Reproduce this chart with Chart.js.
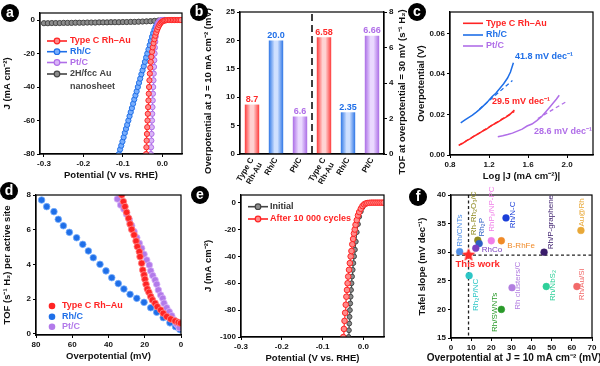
<!DOCTYPE html>
<html><head><meta charset="utf-8">
<script src="https://cdn.jsdelivr.net/npm/chart.js@4/dist/chart.umd.min.js"></script>
<style>
html,body{margin:0;padding:0;background:#fff;}
#wrap{position:relative;width:600px;height:366px;overflow:hidden;background:#fff;}
#wrap canvas{position:absolute;left:0;top:0;}
.lab{position:absolute;width:18px;height:18px;border-radius:50%;background:#000;color:#fff;font:bold 14px "Liberation Sans",Arial,sans-serif;text-align:center;line-height:17px;}
</style></head><body>
<div id="wrap">
<canvas id="ca" width="600" height="366"></canvas>
<canvas id="cb" width="600" height="366"></canvas>
<canvas id="cc" width="600" height="366"></canvas>
<canvas id="cd" width="600" height="366"></canvas>
<canvas id="ce" width="600" height="366"></canvas>
<canvas id="cf" width="600" height="366"></canvas>
<div class="lab" style="left:1px;top:4px">a</div>
<div class="lab" style="left:190px;top:3px">b</div>
<div class="lab" style="left:408px;top:3px">c</div>
<div class="lab" style="left:0px;top:182px">d</div>
<div class="lab" style="left:191px;top:186px">e</div>
<div class="lab" style="left:409px;top:188px">f</div>
</div>
<script>
// ---------------- DATA ----------------
// Panel a: LSV curves (potential V vs RHE, current density mA cm-2)
const aRedV = [-0.041,-0.0403,-0.0396,-0.0389,-0.0382,-0.0375,-0.0367,-0.0359,-0.0351,-0.0343,-0.0335,-0.0326,-0.0316,-0.0305,-0.0292,-0.0277,-0.026,-0.0242,-0.0222,-0.0200,-0.0177,-0.0153,-0.0128,-0.0102,-0.0075,-0.0047,-0.0018,0.0012,0.0043,0.0075,0.011,0.015,0.019,0.023,0.027,0.031,0.035,0.039,0.043,0.047];
const aRedJ = [-80,-76,-72,-68,-64,-60,-56,-52,-48,-44,-40,-36,-32,-28.5,-25,-22,-19,-16.3,-13.8,-11.5,-9.4,-7.5,-5.8,-4.3,-3.0,-2.0,-1.2,-0.7,-0.4,-0.2,-0.1,0,0,0,0,0,0,0,0,0];
const aBlueV = [-0.110,-0.107,-0.104,-0.101,-0.098,-0.095,-0.092,-0.089,-0.086,-0.083,-0.080,-0.077,-0.074,-0.071,-0.068,-0.065,-0.062,-0.059,-0.056,-0.053,-0.050,-0.047,-0.044,-0.041,-0.038,-0.035,-0.032,-0.029,-0.026,-0.023,-0.020,-0.017,-0.014,-0.011,-0.008,-0.005,-0.002,0.002,0.006];
const aBlueJ = [-80,-77.3,-75,-72.6,-70,-67.4,-65,-62.6,-60,-57.4,-55,-52.6,-50,-47.4,-45,-42.6,-40,-37.5,-35,-32.4,-30,-27.6,-25,-22.4,-20,-17.6,-15,-12.5,-10,-7.8,-5.8,-4.1,-2.8,-1.8,-1.1,-0.6,-0.3,-0.1,0];
const aPtV = [-0.029,-0.0284,-0.0278,-0.0272,-0.0266,-0.026,-0.0254,-0.0248,-0.0242,-0.0236,-0.023,-0.0223,-0.0216,-0.0209,-0.0202,-0.0195,-0.0187,-0.0178,-0.0168,-0.0157,-0.0145,-0.0131,-0.0115,-0.0097,-0.0077,-0.0055,-0.003,0.0];
const aPtJ = [-80,-76,-72,-68,-64,-60,-56,-52,-48,-44,-40,-36,-32,-28,-24,-20,-16.5,-13,-10,-7.5,-5.3,-3.5,-2.2,-1.3,-0.7,-0.3,-0.1,0];
const aAuV = [-0.30,-0.29,-0.28,-0.27,-0.26,-0.25,-0.24,-0.23,-0.22,-0.21,-0.20,-0.19,-0.18,-0.17,-0.16,-0.15,-0.14,-0.13,-0.12,-0.11,-0.10,-0.09,-0.08,-0.07,-0.06,-0.05,-0.04,-0.03,-0.02,-0.01,0.0];
const aAuJ = [-1.9,-1.9,-1.8,-1.8,-1.8,-1.7,-1.7,-1.7,-1.6,-1.6,-1.6,-1.5,-1.5,-1.5,-1.4,-1.4,-1.4,-1.3,-1.3,-1.3,-1.2,-1.2,-1.1,-1.1,-1.0,-0.9,-0.8,-0.7,-0.5,-0.3,-0.1];
const aTicksX = [-0.3,-0.2,-0.1,0.0];
const aTicksY = [0,-20,-40,-60,-80];

// Panel b: bars
const bCategories = [['Type C','Rh-Au'],'Rh/C','Pt/C',['Type C','Rh-Au'],'Rh/C','Pt/C'];
const bOverpotential = [8.7, 20.0, 6.6];
const bTOF = [6.58, 2.35, 6.66];
const bValueLabels = ['8.7','20.0','6.6','6.58','2.35','6.66'];
const bTicksL = [0,5,10,15,20,25];
const bTicksR = [0,2,4,6,8];

// Panel c: Tafel plots (log|J|, overpotential V)
const cRedX = [0.89,0.93,0.97,1.01,1.05,1.09,1.13,1.17,1.21,1.25,1.29,1.33,1.37,1.41,1.46];
const cRedY = [0.0049,0.0058,0.0071,0.0081,0.0094,0.0104,0.0117,0.0127,0.0140,0.0152,0.0162,0.0175,0.0186,0.0198,0.0222];
const cRedFitX = [0.89,1.46];
const cRedFitY = [0.0047,0.0215];
const cBlueX = [0.91,0.95,0.99,1.03,1.07,1.11,1.15,1.19,1.23,1.27,1.31,1.35,1.39,1.42,1.45];
const cBlueY = [0.0159,0.0172,0.0185,0.0197,0.0212,0.0228,0.0246,0.0265,0.0288,0.0305,0.0328,0.0352,0.0380,0.0410,0.0455];
const cBlueFitX = [1.10,1.44];
const cBlueFitY = [0.0226,0.0368];
const cPtX = [1.29,1.34,1.39,1.44,1.49,1.54,1.59,1.64,1.69,1.74,1.78,1.82,1.86,1.89,1.92];
const cPtY = [0.0090,0.0095,0.0101,0.0108,0.0118,0.0128,0.0143,0.0153,0.0170,0.0190,0.0212,0.0235,0.0258,0.0275,0.0295];
const cPtFitX = [1.70,1.99];
const cPtFitY = [0.0180,0.0263];
const cSlopes = ['41.8 mV dec⁻¹','29.5 mV dec⁻¹','28.6 mV dec⁻¹'];
const cTicksX = [0.8,1.2,1.6,2.0];
const cTicksY = [0,0.02,0.04,0.06];

// Panel d: TOF vs overpotential
const dRedX = [32.7,31.8,30.9,30.0,28.9,28.1,27.2,25.9,24.8,24.1,23.0,22.6,21.7,21.1,20.4,19.9,19.3,18.6,17.7,16.7,15.8,14.3,13.1,11.2,9.8,7.9,5.7,3.3,1.5,0.3];
const dRedY = [8.0,7.62,7.33,7.0,6.66,6.33,6.02,5.7,5.35,5.03,4.74,4.45,4.07,3.68,3.4,3.15,2.86,2.59,2.4,2.15,1.96,1.77,1.57,1.38,1.19,1.0,0.86,0.75,0.67,0.62];
const dBlueX = [76.9,74.1,70.1,67.7,64.9,61.6,57.6,54.2,51.1,48.4,44.7,41.4,38.2,34.6,31.5,28.1,24.4,20.4,16.7,13.4,9.8,6.1,3.0,0.6];
const dBlueY = [7.71,7.33,7.04,6.6,6.23,5.85,5.54,5.16,4.78,4.39,4.01,3.63,3.24,2.9,2.59,2.28,2.05,1.82,1.51,1.25,0.94,0.64,0.42,0.25];
const dPtX = [35.1,33.3,31.5,30.0,28.5,27.2,25.9,24.4,23.0,21.7,20.4,18.9,17.5,16.7,15.6,14.3,13.4,12.5,11.2,10.1,9.4,7.9,6.5,5.1,3.9,2.4,1.0];
const dPtY = [7.77,7.42,7.19,6.89,6.56,6.23,5.89,5.54,5.22,4.93,4.59,4.26,3.97,3.63,3.36,3.11,2.86,2.53,2.24,2.05,1.77,1.51,1.28,1.05,0.81,0.56,0.36];
const dTicksX = [80,60,40,20,0];
const dTicksY = [0,2,4,6,8];

// Panel e: stability
const eAfterV = [-0.049,-0.0475,-0.046,-0.0445,-0.043,-0.0415,-0.040,-0.0385,-0.037,-0.035,-0.033,-0.031,-0.029,-0.027,-0.025,-0.023,-0.021,-0.019,-0.016,-0.013,-0.010,-0.006,-0.002,0.002,0.006,0.010,0.015,0.020,0.025,0.030,0.035,0.040,0.045,0.050];
const eAfterJ = [-100,-94,-88,-82,-76,-70,-65,-60,-55,-50,-45,-40,-36,-31,-27,-23,-20,-16.5,-13,-9.5,-7,-4.5,-2.5,-1.3,-0.6,-0.3,-0.1,0,0,0,0,0,0,0];
const eInitV = [-0.036,-0.0352,-0.0344,-0.0336,-0.0328,-0.032,-0.031,-0.030,-0.0288,-0.0275,-0.026,-0.0243,-0.0225,-0.0205,-0.0183,-0.016,-0.013,-0.010,-0.006,-0.002,0.002,0.006,0.010];
const eInitJ = [-100,-95,-90,-85,-80,-75,-70,-65,-60,-55,-50,-45,-40,-35,-29,-22,-16,-10.5,-6.5,-3.5,-1.6,-0.7,-0.3];
const eTicksX = [-0.3,-0.2,-0.1,0.0];
const eTicksY = [0,-20,-40,-60,-80,-100];

// Panel f: comparison with reported catalysts
const fNames = ['Rh/CNTs','Rh-Rh₂O₃/C','Rh₂P','RhCo','RhPₓ/NP-PC','B-RhFe','Rh/N-C','Rh/P-graphene','Au@Rh','Rh₂P/NC','Rh/SWNTs','Rh clusters/C','Rh/NbS₂','Rh/Au/Si','This work'];
const fOverpotential = [4.3,13.3,14.0,12.3,20.0,25.0,27.3,46.2,64.5,9.0,25.0,30.3,47.3,62.5,8.7];
const fTafel = [30.1,32.1,31.5,30.7,32.0,32.0,36.0,30.0,33.8,25.9,20.0,23.8,24.0,24.0,29.5];
const fTicksX = [0,10,20,30,40,50,60,70];
const fTicksY = [15,20,25,30,35,40];

// ---------------- STYLE ----------------
const FONT = '"Liberation Sans", Arial, Helvetica, sans-serif';
Chart.defaults.font.family = FONT;
Chart.defaults.color = '#111';
const COL = {
  red:'#ff2424', redL:'#ff8a8a', blue:'#1f6fe8', blueL:'#79aefc', pt:'#b06ee8', ptL:'#d9b6f7',
  gray:'#444444', grayL:'#8c8c8c'
};
const fColors = ['#4f8fe8','#8f8a22','#2d5fc4','#7b3fc0','#f07ee8','#f08a28','#1b3fd8','#3a1c6b','#e8a838','#2cc6c6','#2a9a2a','#b27ee0','#2fd09a','#f26a6a','#ff2a2a'];

function pts(xs, ys){ return xs.map((x,i)=>({x:x, y:ys[i]})); }
function pad(L,T,R,B,yW,xH,rW){ return {left:L-yW, top:T, right:600-R-(rW||0), bottom:366-B-xH}; }
function linAxis(pos, min, max, ticks, title, size, fmt, extra){
  return Object.assign({
    type:'linear', position:pos, min:min, max:max,
    afterBuildTicks: s => { s.ticks = ticks.map(v => ({value:v})); },
    afterFit: s => { if (pos==='left'||pos==='right') s.width = size; else s.height = size; },
    grid:{display:true, drawOnChartArea:false, drawTicks:true, tickLength:3, color:'#000', lineWidth:1},
    border:{display:true, color:'#000', width:1.2},
    ticks:{font:{size:8, weight:'bold'}, color:'#111', padding:2, maxRotation:0, minRotation:0, autoSkip:false, callback: fmt},
    title:{display: !!title, text:title||'', font:{size:9.5, weight:'bold'}, color:'#111', padding:{top:2,bottom:2}}
  }, extra||{});
}
function baseOpts(padding, scales){
  return {responsive:false, animation:false, devicePixelRatio:1, events:[], layout:{padding:padding},
    plugins:{legend:{display:false}, tooltip:{enabled:false}}, scales:scales};
}
const frame = {id:'frame', afterDatasetsDraw(chart){
  const {ctx, chartArea:a} = chart; ctx.save(); ctx.strokeStyle='#000'; ctx.lineWidth=1.2;
  ctx.strokeRect(a.left, a.top, a.right-a.left, a.bottom-a.top); ctx.restore(); }};
function lineDS(xs, ys, color, fill, extra){
  return Object.assign({data:pts(xs,ys), showLine:true, borderColor:color, borderWidth:1.2, pointRadius:2.6,
    pointBackgroundColor:fill, pointBorderColor:color, pointBorderWidth:1}, extra||{});
}
function txt(ctx, s, x, y, color, size, weight, align, rot){
  ctx.save(); ctx.translate(x,y); if (rot) ctx.rotate(rot);
  ctx.font = (weight||'bold') + ' ' + (size||9) + 'px ' + FONT;
  ctx.fillStyle = color; ctx.textAlign = align||'left'; ctx.textBaseline='middle';
  ctx.fillText(s, 0, 0); ctx.restore();
}
function legendLineMarker(ctx, x0, x1, y, color, fill, marker, line){
  ctx.save();
  if (line !== false){ ctx.strokeStyle=color; ctx.lineWidth=1.6; ctx.beginPath(); ctx.moveTo(x0,y); ctx.lineTo(x1,y); ctx.stroke(); }
  if (marker){ ctx.fillStyle=fill; ctx.strokeStyle=color; ctx.lineWidth=1.2; ctx.beginPath(); ctx.arc((x0+x1)/2, y, 2.8, 0, Math.PI*2); ctx.fill(); ctx.stroke(); }
  ctx.restore();
}

// ---------------- PANEL a ----------------
new Chart(document.getElementById('ca'), {
  type:'scatter',
  data:{datasets:[
    lineDS(aRedV, aRedJ, COL.red, COL.redL),
    lineDS(aPtV, aPtJ, COL.pt, COL.ptL),
    lineDS(aBlueV, aBlueJ, COL.blue, COL.blueL),
    lineDS(aAuV, aAuJ, COL.gray, COL.grayL)
  ]},
  options: baseOpts(pad(40,13,182,154,40,29), {
    x: linAxis('bottom', -0.31, 0.05, aTicksX, 'Potential (V vs. RHE)', 29, v=>v.toFixed(1)),
    y: linAxis('left', -80, 4.2, aTicksY, 'J (mA cm⁻²)', 40, v=>String(v))
  }),
  plugins:[frame, {id:'legA', afterDraw(chart){
    const c = chart.ctx;
    const items = [[41,COL.red,COL.redL,'Type C Rh–Au'],[51.7,COL.blue,COL.blueL,'Rh/C'],[62.5,COL.pt,COL.ptL,'Pt/C'],[74,COL.gray,COL.grayL,'2H/fcc Au']];
    items.forEach(it => { legendLineMarker(c, 47, 67, it[0], it[1], it[2], true); txt(c, it[3], 70, it[0], it[1], 9, 'bold'); });
    txt(c, 'nanosheet', 70, 86.5, COL.gray, 9, 'bold');
  }}]
});

// ---------------- PANEL b ----------------
const bPal = [['#ff3b3b','#ffd2d2'],['#2f77e6','#cfe0ff'],['#ab6de6','#ead9ff']];
const bText = ['#ff2a2a','#1f6fe8','#b06ee8'];
function barFill(ctx){
  const ch = ctx.chart; const xs = ch.scales && ch.scales.x;
  const pal = bPal[ctx.dataIndex % 3];
  if (!xs || !ch.chartArea) return pal[0];
  const cx = xs.getPixelForValue(ctx.dataIndex);
  const g = ch.ctx.createLinearGradient(cx-7.2, 0, cx+7.2, 0);
  g.addColorStop(0, pal[0]); g.addColorStop(0.4, pal[1]); g.addColorStop(0.6, pal[1]); g.addColorStop(1, pal[0]);
  return g;
}
new Chart(document.getElementById('cb'), {
  type:'bar',
  data:{labels:bCategories, datasets:[
    {data:[...bOverpotential, null, null, null], yAxisID:'y', grouped:false, barPercentage:0.6, categoryPercentage:1, backgroundColor:barFill, borderWidth:0},
    {data:[null, null, null, ...bTOF], yAxisID:'y2', grouped:false, barPercentage:0.6, categoryPercentage:1, backgroundColor:barFill, borderWidth:0}
  ]},
  options: baseOpts(pad(240,12,384,154,40,30,22), {
    x: {type:'category', position:'bottom', offset:true, afterFit: s=>{ s.height = 30; },
        grid:{display:false, drawTicks:false}, border:{display:true, color:'#000', width:1.2},
        ticks:{font:{size:8, weight:'bold'}, color:'#111', maxRotation:60, minRotation:60, padding:2, autoSkip:false}},
    y: linAxis('left', 0, 25, bTicksL, '', 40, v=>String(v)),
    y2: linAxis('right', 0, 8, bTicksR, '', 22, v=>String(v))
  }),
  plugins:[frame, {id:'bExtra', afterDatasetsDraw(chart){
    const c = chart.ctx, xs = chart.scales.x, a = chart.chartArea;
    const xm = (xs.getPixelForValue(2) + xs.getPixelForValue(3)) / 2;
    c.save(); c.strokeStyle='#000'; c.lineWidth=1.5; c.setLineDash([7,4]);
    c.beginPath(); c.moveTo(xm, a.top+2); c.lineTo(xm, a.bottom); c.stroke(); c.restore();
    chart.data.datasets.forEach((ds, di) => {
      chart.getDatasetMeta(di).data.forEach((el, i) => {
        if (ds.data[i] == null) return;
        txt(c, bValueLabels[i], el.x, el.y - 5, bText[i % 3], 9, 'bold', 'center');
      });
    });
    txt(c, 'Overpotential at J = 10 mA cm⁻² (mV)', 208, 91, '#111', 9.5, 'bold', 'center', -Math.PI/2);
    txt(c, 'TOF at overpotential = 30 mV (s⁻¹ H₂)', 402, 92, '#111', 9.5, 'bold', 'center', -Math.PI/2);
  }}]
});

// ---------------- PANEL c ----------------
const solid = (xs,ys,col)=>({data:pts(xs,ys), showLine:true, borderColor:col, borderWidth:1.5, pointRadius:0});
const dashed = (xs,ys,col)=>({data:pts(xs,ys), showLine:true, borderColor:col, borderWidth:1.3, borderDash:[4,3], pointRadius:0});
new Chart(document.getElementById('cc'), {
  type:'scatter',
  data:{datasets:[
    solid(cRedX, cRedY, COL.red), dashed(cRedFitX, cRedFitY, COL.red),
    solid(cBlueX, cBlueY, COL.blue), dashed(cBlueFitX, cBlueFitY, COL.blue),
    solid(cPtX, cPtY, COL.pt), dashed(cPtFitX, cPtFitY, COL.pt)
  ]},
  options: baseOpts(pad(450,12,593,155,36,29), {
    x: linAxis('bottom', 0.8, 2.266, cTicksX, 'Log |J (mA cm⁻²)|', 29, v=>v.toFixed(1)),
    y: linAxis('left', 0, 0.0706, cTicksY, 'Overpotential (V)', 36, v=>v.toFixed(2))
  }),
  plugins:[frame, {id:'legC', afterDraw(chart){
    const c = chart.ctx;
    [[23.3,COL.red,'Type C Rh–Au'],[35,COL.blue,'Rh/C'],[46,COL.pt,'Pt/C']].forEach(it => {
      legendLineMarker(c, 463, 483, it[0], it[1], it[1], false); txt(c, it[2], 486, it[0], it[1], 9, 'bold');
    });
    txt(c, cSlopes[0], 515, 57, COL.blue, 9, 'bold');
    txt(c, cSlopes[1], 492, 102, COL.red, 9, 'bold');
    txt(c, cSlopes[2], 534, 132, COL.pt, 9, 'bold');
  }}]
});

// ---------------- PANEL d ----------------
const dots = (xs,ys,col,light)=>({data:pts(xs,ys), showLine:false, pointRadius:3.3, pointBackgroundColor:col, pointBorderColor:light, pointBorderWidth:0.8});
new Chart(document.getElementById('cd'), {
  type:'scatter',
  data:{datasets:[
    dots(dRedX, dRedY, COL.red, COL.redL),
    dots(dPtX, dPtY, '#b27aea', COL.ptL),
    dots(dBlueX, dBlueY, COL.blue, COL.blueL)
  ]},
  options: baseOpts(pad(36,195,181,335,36,29), {
    x: linAxis('bottom', 0, 80, dTicksX, 'Overpotential (mV)', 29, v=>String(v), {reverse:true}),
    y: linAxis('left', -0.06, 8, dTicksY, 'TOF (s⁻¹ H₂) per active site', 36, v=>String(v))
  }),
  plugins:[frame, {id:'legD', afterDraw(chart){
    const c = chart.ctx;
    [[306,COL.red,'Type C Rh–Au'],[316.7,COL.blue,'Rh/C'],[326.7,'#b27aea','Pt/C']].forEach(it => {
      c.save(); c.fillStyle=it[1]; c.beginPath(); c.arc(52, it[0], 3.3, 0, Math.PI*2); c.fill(); c.restore();
      txt(c, it[2], 62, it[0], it[1], 9, 'bold');
    });
  }}]
});

// ---------------- PANEL e ----------------
new Chart(document.getElementById('ce'), {
  type:'scatter',
  data:{datasets:[
    lineDS(eAfterV, eAfterJ, COL.red, COL.redL, {pointRadius:2.8}),
    lineDS(eInitV, eInitJ, COL.gray, COL.grayL, {pointRadius:2.4})
  ]},
  options: baseOpts(pad(241,195,384,337,40,29), {
    x: linAxis('bottom', -0.3, 0.0508, eTicksX, 'Potential (V vs. RHE)', 29, v=>v.toFixed(1)),
    y: linAxis('left', -100, 5.7, eTicksY, 'J (mA cm⁻²)', 40, v=>String(v))
  }),
  plugins:[frame, {id:'legE', afterDraw(chart){
    const c = chart.ctx;
    legendLineMarker(c, 248, 268, 206.7, COL.gray, COL.grayL, true); txt(c, 'Initial', 270, 206.7, '#333', 9, 'bold');
    legendLineMarker(c, 248, 268, 219, COL.red, COL.redL, true); txt(c, 'After 10 000 cycles', 270, 219, COL.red, 9, 'bold');
  }}]
});

// ---------------- PANEL f ----------------
function starCanvas(r, color){
  const cv = document.createElement('canvas'); cv.width = cv.height = 2*r+2;
  const x = cv.getContext('2d'); x.fillStyle = color; x.beginPath();
  for (let i=0;i<10;i++){ const ang = -Math.PI/2 + i*Math.PI/5; const rr = (i%2) ? r*0.45 : r;
    x.lineTo(r+1+rr*Math.cos(ang), r+1+rr*Math.sin(ang)); }
  x.closePath(); x.fill(); return cv;
}
const star = starCanvas(7, '#ff2a2a');
// label placement: [dx, dy, vertical, align]
const fPlace = [[0,-5,true,'left'],[-4,-5,true,'left'],[3,-7,true,'left'],[6,2,false,'left'],[1,-9,true,'left'],[6,5,false,'left'],
  [7,-3,true,'center'],[7,-3,true,'left'],[1,-4,true,'left'],[7,3,true,'right'],[-7,3,true,'center'],[6,-2,true,'center'],
  [7,-1,true,'center'],[5,-2,true,'center'],[-13,9,false,'left']];
new Chart(document.getElementById('cf'), {
  type:'scatter',
  data:{datasets:[{data:pts(fOverpotential, fTafel), showLine:false,
    pointRadius: fNames.map((n,i)=> i===fNames.length-1 ? 7 : 3.4),
    pointStyle: fNames.map((n,i)=> i===fNames.length-1 ? star : 'circle'),
    pointBackgroundColor: fColors, pointBorderColor: fColors, pointBorderWidth:0.5}]},
  options: baseOpts(pad(451,195,592,338,36,28), {
    x: linAxis('bottom', 0, 70, fTicksX, '', 28, v=>String(v)),
    y: linAxis('left', 15, 40, fTicksY, 'Tafel slope (mV dec⁻¹)', 36, v=>String(v))
  }),
  plugins:[frame, {id:'fRef', beforeDatasetsDraw(chart){
    const c = chart.ctx, a = chart.chartArea, xs = chart.scales.x, ys = chart.scales.y;
    const n = fNames.length-1;
    const px = xs.getPixelForValue(fOverpotential[n]), py = ys.getPixelForValue(fTafel[n]);
    c.save(); c.strokeStyle='#222'; c.lineWidth=1.3; c.setLineDash([3,2.5]);
    c.beginPath(); c.moveTo(a.left, py); c.lineTo(a.right, py); c.moveTo(px, a.top); c.lineTo(px, a.bottom); c.stroke(); c.restore();
  }, afterDatasetsDraw(chart){
    const c = chart.ctx, xs = chart.scales.x, ys = chart.scales.y;
    fNames.forEach((name, i) => {
      const p = fPlace[i];
      const x = xs.getPixelForValue(fOverpotential[i]) + p[0], y = ys.getPixelForValue(fTafel[i]) + p[1];
      const last = i === fNames.length-1;
      txt(c, name, x, y, fColors[i], last ? 9.5 : 8, last ? 'bold' : 'normal', p[3], p[2] ? -Math.PI/2 : 0);
    });
    txt(c, 'Overpotential at J = 10 mA cm⁻² (mV)', 514, 358, '#111', 10, 'bold', 'center');
  }}]
});
</script>
</body></html>
